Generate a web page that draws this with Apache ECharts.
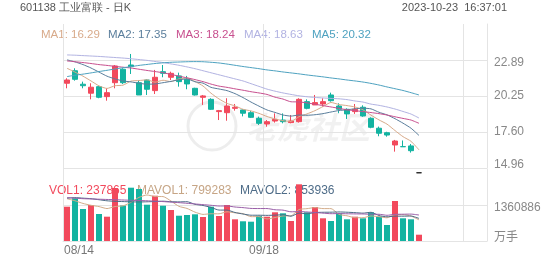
<!DOCTYPE html>
<html><head><meta charset="utf-8">
<script src="https://cdn.jsdelivr.net/npm/echarts@6/dist/echarts.min.js"></script>
<style>html,body{margin:0;padding:0;background:#fff}#c{width:552px;height:265px}</style>
</head><body><div id="c"></div>
<script>
const dates = ['08/14','08/15','08/16','08/17','08/18','08/21','08/22','08/23','08/24','08/25',
  '08/28','08/29','08/30','08/31','09/01','09/04','09/05','09/06','09/07','09/08',
  '09/11','09/12','09/13','09/14','09/15','09/18','09/19','09/20','09/21','09/22',
  '09/25','09/26','09/27','09/28','10/09','10/10','10/11','10/12','10/13',
  '10/16','10/17','10/18','10/19','10/20','10/23'];
const xTickLabels = ['08/14','09/18'];
const opens  = [21.18,22.10,21.11,20.45,20.93,20.20,21.22,22.21,22.52,21.22,21.42,20.64,22.03,21.62,21.72,21.47,20.81,20.15,20.00,19.10,19.02,19.34,19.22,19.02,18.61,18.19,18.41,18.48,18.29,18.36,19.83,19.59,19.66,20.32,19.51,19.27,19.10,19.42,18.61,17.88,17.55,16.65,16.53,16.58,14.61];
const closes = [21.42,21.47,21.00,20.89,20.15,20.49,22.45,21.22,22.40,20.32,20.74,21.62,21.91,21.91,21.30,21.13,20.32,20.25,19.27,19.17,19.51,19.42,18.98,18.68,18.24,18.36,18.53,18.36,18.41,20.00,19.34,19.76,19.83,19.90,19.27,18.93,19.27,18.78,17.95,17.51,17.38,16.94,16.52,16.23,14.61];
const lows   = [20.81,21.37,20.81,20.00,20.08,19.90,20.81,21.13,21.86,20.32,20.32,20.39,21.62,21.42,20.93,20.74,20.28,19.59,19.22,18.48,18.43,19.17,18.75,18.63,18.12,17.99,18.29,18.24,18.24,18.29,19.27,19.59,19.46,19.83,18.98,18.56,18.93,18.72,17.88,17.29,17.26,16.16,16.52,16.09,14.61];
const highs  = [21.55,22.28,21.30,21.18,20.98,20.81,22.52,22.28,23.33,21.42,21.47,22.16,22.52,22.03,21.96,21.72,20.85,20.32,20.08,19.22,20.08,19.66,19.27,19.15,18.73,18.48,18.97,18.97,18.85,20.08,20.00,20.32,20.08,20.49,19.71,19.34,19.66,19.56,18.68,18.00,17.62,17.02,16.98,16.72,14.61];
const ma1 = [22.28,22.00,21.70,21.35,20.99,20.80,21.00,21.04,21.34,21.38,21.43,21.26,21.40,21.30,21.50,21.57,21.31,20.98,20.45,20.03,19.70,19.52,19.27,19.15,18.97,18.74,18.56,18.43,18.38,18.73,18.93,19.17,19.47,19.77,19.62,19.54,19.44,19.23,18.84,18.49,18.18,17.71,17.26,16.92,16.29];
const ma2 = [22.90,22.75,22.55,22.30,22.00,21.70,21.50,21.35,21.28,21.18,21.11,21.13,21.22,21.32,21.44,21.50,21.29,21.19,20.88,20.76,20.64,20.42,20.13,19.80,19.50,19.22,19.04,18.85,18.77,18.85,18.83,18.87,18.95,19.07,19.18,19.23,19.31,19.35,19.30,19.05,18.86,18.58,18.25,17.88,17.35];
const ma3 = [22.82,22.76,22.70,22.63,22.55,22.49,22.42,22.36,22.30,22.21,22.12,22.04,21.95,21.83,21.70,21.58,21.45,21.30,21.12,20.97,20.88,20.77,20.67,20.56,20.47,20.36,20.16,20.02,19.82,19.81,19.74,19.64,19.54,19.44,19.34,19.23,19.17,19.10,19.03,18.95,18.85,18.72,18.60,18.48,18.24];
const ma4 = [23.26,23.24,23.21,23.18,23.15,23.11,23.07,23.03,22.98,22.92,22.86,22.78,22.70,22.60,22.50,22.38,22.25,22.10,21.95,21.80,21.65,21.50,21.35,21.15,20.95,20.75,20.60,20.47,20.36,20.26,20.19,20.14,20.10,20.07,20.04,19.98,19.88,19.80,19.65,19.56,19.44,19.29,19.11,18.92,18.63];
const ma5 = [21.67,21.77,21.85,21.94,22.04,22.13,22.23,22.32,22.40,22.49,22.56,22.63,22.68,22.72,22.74,22.76,22.77,22.76,22.72,22.67,22.59,22.50,22.41,22.33,22.25,22.16,22.09,22.01,21.94,21.87,21.79,21.72,21.65,21.57,21.50,21.42,21.35,21.27,21.17,21.05,20.91,20.78,20.65,20.49,20.32];
const volumes = [1297000,1614000,1210000,1361000,1021000,919000,2004000,1342000,2015000,1966000,1372000,1712000,1334000,1172000,956000,983000,1009000,907000,1297000,945000,1361000,820000,745000,730000,956000,919000,1085000,1047000,756000,2143000,1085000,1285000,858000,756000,1047000,820000,919000,858000,1085000,919000,605000,1512000,858000,820000,237865];
const mavol1 = [1600000,1520000,1420000,1350000,1301000,1225000,1303000,1329000,1460000,1649000,1740000,1681000,1680000,1511000,1309000,1231000,1091000,1005000,1030000,1028000,1104000,1066000,1034000,920000,922000,834000,887000,947000,953000,1190000,1223000,1263000,1225000,1225000,1006000,953000,880000,880000,946000,920000,877000,996000,996000,943000,799283];
const mavol2 = [1620000,1640000,1620000,1600000,1560000,1520000,1500000,1490000,1480000,1475000,1482000,1492000,1505000,1486000,1479000,1486000,1386000,1343000,1271000,1169000,1168000,1078000,1020000,975000,975000,969000,977000,991000,936000,1056000,1029000,1075000,1086000,1089000,1098000,1088000,1072000,1053000,1086000,963000,915000,938000,938000,944000,853936];
const mavol3 = [1640000,1620000,1600000,1590000,1580000,1570000,1560000,1550000,1540000,1530000,1520000,1505000,1490000,1470000,1450000,1425000,1400000,1375000,1350000,1322000,1325000,1285000,1262000,1231000,1227000,1227000,1181000,1167000,1104000,1112000,1098000,1077000,1053000,1032000,1037000,1029000,1024000,1022000,1011000,1010000,972000,1007000,1012000,1017000,981000];
const priceTickLabels = ['14.96','17.60','20.25','22.89'];
const volTickLabels = ['万手','1360886'];
const maLegend = ['MA1: 16.29','MA2: 17.35','MA3: 18.24','MA4: 18.63','MA5: 20.32'];
const volLegend = ['VOL1: 237865','MAVOL1: 799283','MAVOL2: 853936'];
const titleText = '601138 工业富联 - 日K';
const timeText = '2023-10-23  16:37:01';

const UP = '#f2495c', DOWN = '#13b3a1';
const MA_COLORS = ['#d8aa8a','#5a7e9c','#c8508f','#b2b3e2','#4ea2c0'];
const VOLLEG_COLORS = [UP,'#c6a585','#4e6c88'];
const GRID_C = '#e4e4e4';
const FONT = '"Liberation Sans", Arial, sans-serif';

const padCount = 8;
const cats = dates.concat(Array.from({length: padCount}, (_, k) => '_' + k));
const candleData = opens.map((o, i) => [o, closes[i], lows[i], highs[i]]);

const chart = echarts.init(document.getElementById('c'), null, {renderer: 'canvas'});

const priceRich = {
  top: {color:'#888', fontSize:12, fontFamily:FONT, padding:[6,0,0,0]},
  mid: {color:'#888', fontSize:12, fontFamily:FONT},
  bot: {color:'#888', fontSize:12, fontFamily:FONT, padding:[0,0,6,0]}
};
function priceFmt(v) {
  for (let k = 0; k < priceTickLabels.length; k++) {
    if (Math.abs(parseFloat(priceTickLabels[k]) - v) < 0.02) {
      const key = k === 0 ? 'bot' : (k === priceTickLabels.length - 1 ? 'top' : 'mid');
      return '{' + key + '|' + priceTickLabels[k] + '}';
    }
  }
  return '';
}
const volStep = 1360886;
function volFmt(v) {
  if (v === 0) return '{u|' + volTickLabels[0] + '}';
  if (Math.abs(v - volStep) < 1) return '{n|' + volTickLabels[1] + '}';
  return '';
}

const lineSeries = (name, data, color, xi, yi) => ({
  name, type:'line', data, xAxisIndex:xi, yAxisIndex:yi, showSymbol:false, smooth:0.2,
  lineStyle:{width:1, color}, itemStyle:{color}, silent:true, z:3
});

const catAxisBase = (gi) => ({
  type:'category', gridIndex:gi, data:cats, boundaryGap:true,
  axisTick:{show:false},
  splitLine:{show:true, interval:(i) => i % 25 === 0, lineStyle:{color:GRID_C, width:1}}
});

chart.setOption({
  animation:false,
  backgroundColor:'#fff',
  grid:[
    {left:63, top:24, width:424, height:144},
    {left:63, top:169, width:424, height:72}
  ],
  xAxis:[
    Object.assign(catAxisBase(0), {axisLine:{show:false}, axisLabel:{show:false}}),
    Object.assign(catAxisBase(1), {
      axisLine:{show:true, lineStyle:{color:GRID_C}},
      axisLabel:{
        show:true, margin:4,
        interval:(i, v) => xTickLabels.indexOf(v) >= 0,
        formatter:(v) => v === xTickLabels[0] ? '{l|' + v + '}' : '{c|' + v + '}',
        rich:{
          l:{color:'#777', fontSize:12, fontFamily:FONT, padding:[0,0,0,24]},
          c:{color:'#777', fontSize:12, fontFamily:FONT, padding:[0,6,0,0]}
        }
      }
    })
  ],
  yAxis:[
    {
      type:'value', gridIndex:0, position:'right', min:14.96, max:25.53, interval:2.6425,
      axisLine:{show:true, lineStyle:{color:GRID_C}}, axisTick:{show:false},
      splitLine:{show:true, showMaxLine:false, lineStyle:{color:GRID_C}},
      axisLabel:{showMaxLabel:false, margin:7, formatter:priceFmt, rich:priceRich}
    },
    {
      type:'value', gridIndex:1, position:'right', min:0, max:volStep*2, interval:volStep,
      axisLine:{show:true, lineStyle:{color:GRID_C}}, axisTick:{show:false},
      splitLine:{show:true, showMaxLine:false, lineStyle:{color:GRID_C}},
      axisLabel:{showMaxLabel:false, margin:7, formatter:volFmt, rich:{
        u:{color:'#888', fontSize:12, fontFamily:'"Noto Sans CJK SC", sans-serif', padding:[0,0,10,0]},
        n:{color:'#888', fontSize:12, fontFamily:FONT, padding:[6,0,0,0]}
      }}
    }
  ],
  graphic:[
    {type:'text', left:20, top:2, z:0, style:{text:titleText, fill:'#555', font:'11px ' + FONT}},
    {type:'text', right:45, top:2, z:0, style:{text:timeText, fill:'#555', font:'11px ' + FONT}},
    {type:'text', left:41, top:28.5, z:0, style:{text:maLegend[0], fill:MA_COLORS[0], font:'11.5px ' + FONT}},
    {type:'text', left:108, top:28.5, z:0, style:{text:maLegend[1], fill:MA_COLORS[1], font:'11.5px ' + FONT}},
    {type:'text', left:176, top:28.5, z:0, style:{text:maLegend[2], fill:MA_COLORS[2], font:'11.5px ' + FONT}},
    {type:'text', left:244, top:28.5, z:0, style:{text:maLegend[3], fill:MA_COLORS[3], font:'11.5px ' + FONT}},
    {type:'text', left:312, top:28.5, z:0, style:{text:maLegend[4], fill:MA_COLORS[4], font:'11.5px ' + FONT}},
    {type:'text', left:49, top:184.5, z:0, style:{text:volLegend[0], fill:VOLLEG_COLORS[0], font:'12px ' + FONT}},
    {type:'text', left:137, top:184.5, z:0, style:{text:volLegend[1], fill:VOLLEG_COLORS[1], font:'12px ' + FONT}},
    {type:'text', left:240, top:184.5, z:0, style:{text:volLegend[2], fill:VOLLEG_COLORS[2], font:'12px ' + FONT}},
    {type:'circle', z:0, shape:{cx:212, cy:126, r:24}, style:{fill:'none', stroke:'rgba(0,0,0,0.07)', lineWidth:3}},
    {type:'text', left:246, top:112, z:0, style:{text:'老虎社区', fill:'rgba(0,0,0,0.055)', font:'italic bold 31px "Noto Sans CJK SC", sans-serif'}}
  ],
  series:[
    {
      name:'K', type:'candlestick', xAxisIndex:0, yAxisIndex:0, data:candleData, barWidth:5.5, clip:false,
      itemStyle:{color:UP, color0:DOWN, borderColor:UP, borderColor0:DOWN, borderColorDoji:'#222', borderWidth:1}
    },
    lineSeries('MA1', ma1, MA_COLORS[0], 0, 0),
    lineSeries('MA2', ma2, MA_COLORS[1], 0, 0),
    lineSeries('MA3', ma3, MA_COLORS[2], 0, 0),
    lineSeries('MA4', ma4, MA_COLORS[3], 0, 0),
    lineSeries('MA5', ma5, MA_COLORS[4], 0, 0),
    {
      name:'VOL', type:'bar', xAxisIndex:1, yAxisIndex:1, data:volumes, barWidth:6,
      itemStyle:{color:(p) => closes[p.dataIndex] >= opens[p.dataIndex] ? UP : DOWN}
    },
    lineSeries('MAVOL1', mavol1, '#d3ad8a', 1, 1),
    lineSeries('MAVOL2', mavol2, '#4e6c88', 1, 1),
    lineSeries('MAVOL3', mavol3, '#9a5fa8', 1, 1)
  ]
});
</script></body></html>
